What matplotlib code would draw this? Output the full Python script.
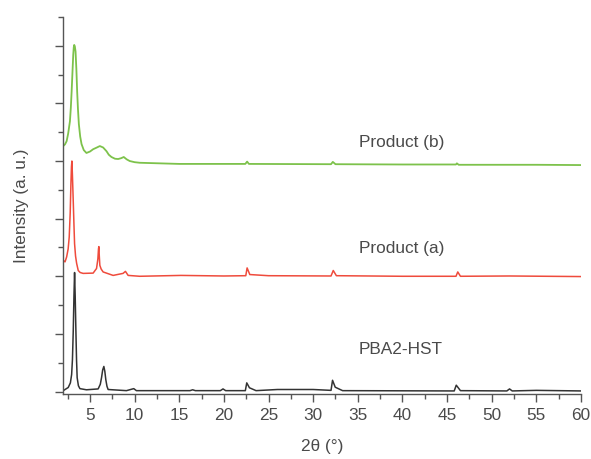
import numpy as np
import matplotlib.pyplot as plt
from matplotlib.ticker import MultipleLocator, NullFormatter

plt.rcParams['font.family'] = ['Liberation Sans', 'DejaVu Sans']

# Points (2theta in degrees, offset intensity in a.u.)
two_theta_b = [2.0, 2.2, 2.38, 2.55, 2.75, 2.85, 2.94, 3.03, 3.12, 3.18, 3.23, 3.3,
               3.38, 3.47, 3.56, 3.65, 3.75, 3.9, 4.05, 4.3, 4.6, 5.0, 5.35, 5.7,
               6.1, 6.47, 6.85, 7.1, 7.4, 7.8, 8.15, 8.5, 8.78, 9.1, 9.45, 10.0,
               10.57, 15.0, 22.4, 22.6, 22.8, 32.0, 32.2, 32.5, 40.0, 46.0, 46.1,
               46.3, 55.0, 60.0]
intensity_b = [8.52, 8.58, 8.69, 8.95, 9.38, 9.85, 10.41, 11.05, 11.69, 11.95, 12.03, 11.98,
               11.8, 11.2, 10.41, 9.8, 9.28, 8.85, 8.59, 8.38, 8.28, 8.33, 8.41, 8.46,
               8.52, 8.47, 8.34, 8.22, 8.14, 8.08, 8.07, 8.1, 8.14, 8.06, 8.0, 7.96,
               7.94, 7.9, 7.9, 7.98, 7.9, 7.89, 7.97, 7.89, 7.88, 7.88, 7.92,
               7.87, 7.87, 7.86]

two_theta_a = [2.0, 2.2, 2.38, 2.55, 2.67, 2.78, 2.86, 2.92, 2.97, 3.03, 3.12, 3.2,
               3.27, 3.38, 3.5, 3.68, 3.9, 4.23, 5.35, 5.73, 5.88, 5.95, 5.99, 6.04,
               6.1, 6.25, 6.47, 7.59, 8.7, 8.97, 9.27, 10.57, 15.2, 20.0, 22.45, 22.6,
               22.9, 25.0, 32.0, 32.25, 32.6, 40.0, 46.0, 46.2, 46.5, 52.0, 60.0]
intensity_a = [4.55, 4.5, 4.67, 4.95, 5.36, 6.2, 7.2, 7.8, 8.0, 7.5, 6.62, 5.8,
               5.13, 4.7, 4.45, 4.2, 4.13, 4.1, 4.11, 4.27, 4.6, 4.95, 5.03, 4.7,
               4.38, 4.25, 4.15, 4.03, 4.1, 4.17, 4.03, 4.0, 4.03, 4.01, 4.02, 4.29,
               4.06, 4.02, 4.01, 4.2, 4.02, 4.0, 4.0, 4.15, 4.0, 4.01, 3.99]

two_theta_hst = [2.0, 2.56, 2.8, 2.94, 3.03, 3.12, 3.2, 3.27, 3.34, 3.42, 3.49, 3.56,
                 3.7, 3.87, 4.6, 5.91, 6.15, 6.29, 6.42, 6.55, 6.66, 6.77, 6.9, 7.03,
                 9.08, 9.9, 10.2, 16.2, 16.5, 16.8, 19.6, 19.9, 20.2, 22.4, 22.56,
                 22.86, 23.6, 26.0, 30.0, 32.0, 32.17, 32.47, 33.3, 45.8, 46.03,
                 46.5, 51.7, 52.0, 52.3, 55.0, 60.0]
intensity_hst = [0.03, 0.14, 0.3, 0.59, 1.1, 2.08, 3.3, 4.13, 3.3, 2.08, 1.1, 0.48,
                 0.2, 0.1, 0.06, 0.09, 0.25, 0.48, 0.75, 0.87, 0.7, 0.41, 0.18, 0.07,
                 0.03, 0.1, 0.03, 0.03, 0.06, 0.03, 0.03, 0.09, 0.03, 0.03, 0.3,
                 0.13, 0.03, 0.07, 0.07, 0.04, 0.39, 0.15, 0.03, 0.02, 0.22,
                 0.03, 0.02, 0.09, 0.02, 0.04, 0.02]

labels = ["Product (b)", "Product (a)", "PBA2-HST"]
label_y = [8.66, 4.97, 1.45]

fig = plt.figure(figsize=(5.91, 4.59), dpi=100)
ax = fig.add_axes([0.107, 0.142, 0.876, 0.821])

ax.plot(two_theta_hst, intensity_hst, color='#333333', lw=1.1)
ax.plot(two_theta_a, intensity_a, color='#ef4b3c', lw=1.1)
ax.plot(two_theta_b, intensity_b, color='#7dc24b', lw=1.3)

text_color = '#4a4a4a'
for lab, yy in zip(labels, label_y):
    ax.text(35.1, yy, lab, fontsize=12.4, color=text_color, va='center', ha='left')

ax.set_xlim(2.0, 60)
ax.set_ylim(-0.08, 13)
ax.xaxis.set_major_locator(MultipleLocator(5))
ax.xaxis.set_minor_locator(MultipleLocator(2.5))
ax.yaxis.set_major_locator(MultipleLocator(2))
ax.yaxis.set_minor_locator(MultipleLocator(1))
ax.yaxis.set_major_formatter(NullFormatter())

for side in ['top', 'right']:
    ax.spines[side].set_visible(False)
for side in ['left', 'bottom']:
    ax.spines[side].set_color('#555555')
    ax.spines[side].set_linewidth(1.0)

ax.tick_params(which='major', length=6, width=1.0, color='#555555',
               labelsize=12.4, labelcolor=text_color, pad=4)
ax.tick_params(which='minor', length=3.5, width=1.0, color='#555555')

ax.set_xlabel("2θ (°)", fontsize=12.4, color=text_color, labelpad=12)
ax.set_ylabel("Intensity (a. u.)", fontsize=12.4, color=text_color, labelpad=15)

plt.savefig("out.png", dpi=100)
